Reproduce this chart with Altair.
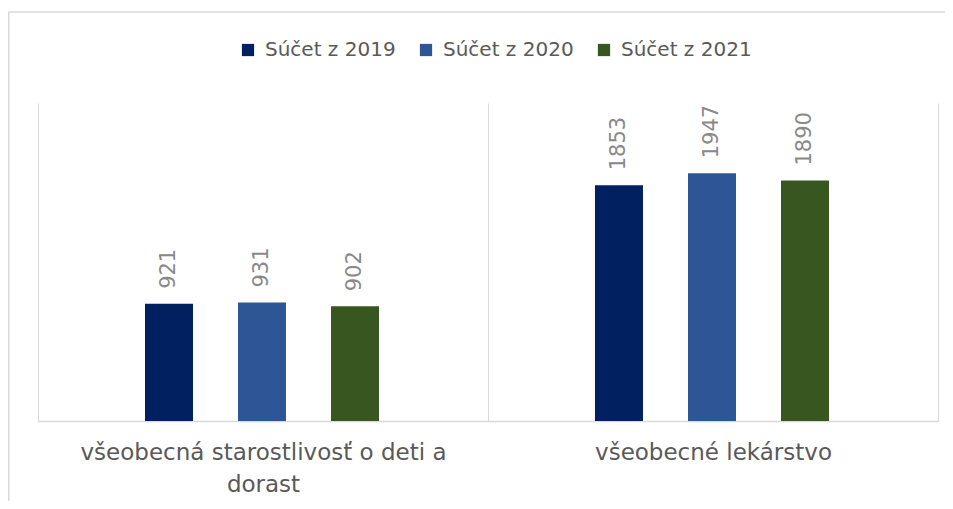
import altair as alt
import pandas as pd

categories = ["všeobecná starostlivosť o deti a dorast", "všeobecné lekárstvo"]
category_lines = [["všeobecná starostlivosť o deti a", "dorast"], ["všeobecné lekárstvo"]]
series = ["Súčet z 2019", "Súčet z 2020", "Súčet z 2021"]
values_2019 = [921, 1853]
values_2020 = [931, 1947]
values_2021 = [902, 1890]
colors = ["#00205F", "#2E5596", "#38561F"]

rows = []
for i, cat in enumerate(categories):
    for s, vals in zip(series, [values_2019, values_2020, values_2021]):
        rows.append({"kategória": cat, "séria": s, "hodnota": vals[i]})
df = pd.DataFrame(rows)

label_expr = " : ".join(
    [f"datum.label == '{c}' ? {lines!r}" for c, lines in zip(categories, category_lines)]
) + " : datum.label"

FONT = "DejaVu Sans"

x_enc = alt.X(
    "kategória:N",
    sort=categories,
    scale=alt.Scale(paddingInner=0, paddingOuter=0),
    axis=alt.Axis(
        title=None,
        labelAngle=0,
        ticks=False,
        grid=True,
        tickBand="extent",
        gridColor="#d9d9d9",
        gridWidth=1,
        domainColor="#d9d9d9",
        domainWidth=1.5,
        labelFont=FONT,
        labelFontSize=23,
        labelColor="#595959",
        labelPadding=20,
        labelLineHeight=32,
        labelLimit=600,
        labelExpr=label_expr,
    ),
)
xoff_enc = alt.XOffset(
    "séria:N", sort=series,
    scale=alt.Scale(paddingInner=0.484, paddingOuter=0, range=[107, 341]),
)
y_enc = alt.Y("hodnota:Q", scale=alt.Scale(domain=[0, 2500]), axis=None)

base = alt.Chart(df)

bars = base.mark_bar().encode(
    x=x_enc,
    xOffset=xoff_enc,
    y=y_enc,
    color=alt.Color(
        "séria:N",
        sort=series,
        scale=alt.Scale(domain=series, range=colors),
        legend=alt.Legend(
            title=None,
            orient="none",
            direction="horizontal",
            legendX=200,
            legendY=-63,
            symbolType="square",
            symbolSize=150,
            symbolStrokeWidth=0,
            symbolOpacity=1,
            labelFont=FONT,
            labelFontSize=20,
            labelColor="#595959",
            labelOffset=7,
            columnPadding=20,
            labelLimit=300,
        ),
    ),
)

texts = base.mark_text(
    angle=270, align="left", baseline="middle", dx=15, font=FONT, fontSize=21, color="#898989"
).encode(
    x=x_enc,
    xOffset=xoff_enc,
    y=y_enc,
    text=alt.Text("hodnota:Q"),
)

frame_df = pd.DataFrame({"k": [0]})
left_border = alt.Chart(frame_df).mark_rule(color="#d9d9d9", strokeWidth=1.5).encode(
    x=alt.value(-29.25), y=alt.value(-91), y2=alt.value(400)
)
top_border = alt.Chart(frame_df).mark_rule(color="#d9d9d9", strokeWidth=1.5).encode(
    x=alt.value(-29.25), x2=alt.value(910), y=alt.value(-91)
)

chart = alt.layer(left_border, top_border, bars, texts).properties(
    width=900,
    height=318,
    padding={"left": 30, "top": 95, "right": 7, "bottom": 80},
    autosize=alt.AutoSizeParams(type="none"),
).configure_view(stroke=None)

chart.save("out.html", embed_options={"renderer": "svg", "actions": False})
